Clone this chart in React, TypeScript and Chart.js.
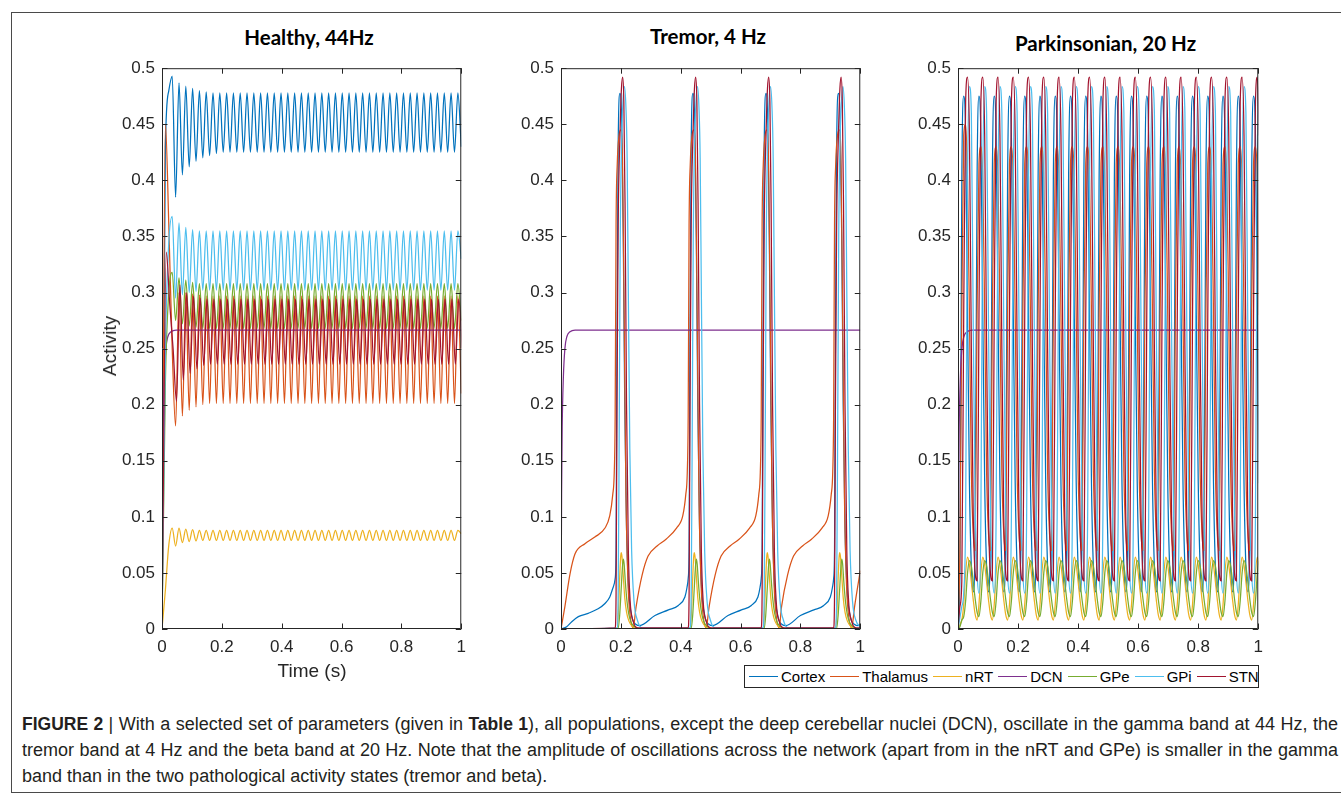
import React, { useEffect, useLayoutEffect, useRef } from 'react';
import { Chart, registerables } from 'chart.js';

Chart.register(...registerables);

// ---------- shared series info ----------
const SERIES_NAMES = ['Cortex', 'Thalamus', 'nRT', 'DCN', 'GPe', 'GPi', 'STN'];
const SERIES_COLORS = ['#0072BD', '#D95319', '#EDB120', '#7E2F8E', '#77AC30', '#4DBEEE', '#A2142F'];

const X_TICKS = [0, 0.2, 0.4, 0.6, 0.8, 1];
const X_TICK_LABELS = ['0', '0.2', '0.4', '0.6', '0.8', '1'];
const Y_TICKS = [0, 0.05, 0.1, 0.15, 0.2, 0.25, 0.3, 0.35, 0.4, 0.45, 0.5];
const Y_TICK_LABELS = ['0', '0.05', '0.1', '0.15', '0.2', '0.25', '0.3', '0.35', '0.4', '0.45', '0.5'];

// DCN settles to a constant level in every state: [time s, activity]
const DCN_TRACE = [
  [0, 0], [0.002, 0.12], [0.004, 0.18], [0.008, 0.225], [0.013, 0.25],
  [0.02, 0.261], [0.03, 0.265], [0.047, 0.2665], [1, 0.2665],
];

// ---------- Healthy, 44 Hz: extrema sampled every half period (1/88 s) ----------
const HEALTHY_STEP = 1 / 88;
const HEALTHY_STN_LAG = 0.003; // STN lags the other populations slightly

const HEALTHY_CORTEX = [
  0, 0.43, 0.48, 0.493, 0.385, 0.487, 0.405, 0.484, 0.412, 0.482, 0.417, 0.48, 0.42, 0.479, 0.422, 0.478, 0.424,
  0.478, 0.425, 0.478, 0.425, 0.478, 0.425, 0.478, 0.425, 0.478, 0.425,
  0.478, 0.425, 0.478, 0.425, 0.478, 0.425, 0.478, 0.425, 0.478, 0.425,
  0.478, 0.425, 0.478, 0.425, 0.478, 0.425, 0.478, 0.425, 0.478, 0.425,
  0.478, 0.425, 0.478, 0.425, 0.478, 0.425, 0.478, 0.425, 0.478, 0.425,
  0.478, 0.425, 0.478, 0.425, 0.478, 0.425, 0.478, 0.425, 0.478, 0.425,
  0.478, 0.425, 0.478, 0.425, 0.478, 0.425, 0.478, 0.425, 0.478, 0.425,
  0.478, 0.425, 0.478, 0.425, 0.478, 0.425, 0.478, 0.425, 0.478, 0.425,
  0.478, 0.43,
];

const HEALTHY_THALAMUS = [
  0, 0.45, 0.36, 0.25, 0.181, 0.3, 0.19, 0.3, 0.195, 0.299, 0.198, 0.298, 0.2,
  0.297, 0.201, 0.297, 0.201, 0.297, 0.201, 0.297, 0.201, 0.297, 0.201,
  0.297, 0.201, 0.297, 0.201, 0.297, 0.201, 0.297, 0.201, 0.297, 0.201,
  0.297, 0.201, 0.297, 0.201, 0.297, 0.201, 0.297, 0.201, 0.297, 0.201,
  0.297, 0.201, 0.297, 0.201, 0.297, 0.201, 0.297, 0.201, 0.297, 0.201,
  0.297, 0.201, 0.297, 0.201, 0.297, 0.201, 0.297, 0.201, 0.297, 0.201,
  0.297, 0.201, 0.297, 0.201, 0.297, 0.201, 0.297, 0.201, 0.297, 0.201,
  0.297, 0.201, 0.297, 0.201, 0.297, 0.201, 0.297, 0.201, 0.297, 0.201,
  0.297, 0.201, 0.297, 0.201,
  0.297, 0.21,
];

const HEALTHY_NRT = [
  0, 0.035, 0.075, 0.09, 0.074, 0.09, 0.077, 0.089, 0.078, 0.0885, 0.0785, 0.088, 0.079,
  0.088, 0.079, 0.088, 0.079, 0.088, 0.079, 0.088, 0.079, 0.088, 0.079,
  0.088, 0.079, 0.088, 0.079, 0.088, 0.079, 0.088, 0.079, 0.088, 0.079,
  0.088, 0.079, 0.088, 0.079, 0.088, 0.079, 0.088, 0.079, 0.088, 0.079,
  0.088, 0.079, 0.088, 0.079, 0.088, 0.079, 0.088, 0.079, 0.088, 0.079,
  0.088, 0.079, 0.088, 0.079, 0.088, 0.079, 0.088, 0.079, 0.088, 0.079,
  0.088, 0.079, 0.088, 0.079, 0.088, 0.079, 0.088, 0.079, 0.088, 0.079,
  0.088, 0.079, 0.088, 0.079, 0.088, 0.079, 0.088, 0.079, 0.088, 0.079,
  0.088, 0.079, 0.088, 0.079,
  0.088, 0.085,
];

const HEALTHY_GPE = [
  0, 0.22, 0.3, 0.318, 0.275, 0.313, 0.272, 0.311, 0.27, 0.309, 0.269, 0.308, 0.268,
  0.308, 0.268, 0.308, 0.268, 0.308, 0.268, 0.308, 0.268, 0.308, 0.268,
  0.308, 0.268, 0.308, 0.268, 0.308, 0.268, 0.308, 0.268, 0.308, 0.268,
  0.308, 0.268, 0.308, 0.268, 0.308, 0.268, 0.308, 0.268, 0.308, 0.268,
  0.308, 0.268, 0.308, 0.268, 0.308, 0.268, 0.308, 0.268, 0.308, 0.268,
  0.308, 0.268, 0.308, 0.268, 0.308, 0.268, 0.308, 0.268, 0.308, 0.268,
  0.308, 0.268, 0.308, 0.268, 0.308, 0.268, 0.308, 0.268, 0.308, 0.268,
  0.308, 0.268, 0.308, 0.268, 0.308, 0.268, 0.308, 0.268, 0.308, 0.268,
  0.308, 0.268, 0.308, 0.268,
  0.308, 0.275,
];

const HEALTHY_GPI = [
  0, 0.25, 0.345, 0.368, 0.295, 0.362, 0.298, 0.358, 0.3, 0.356, 0.301, 0.355, 0.302,
  0.355, 0.302, 0.355, 0.302, 0.355, 0.302, 0.355, 0.302, 0.355, 0.302,
  0.355, 0.302, 0.355, 0.302, 0.355, 0.302, 0.355, 0.302, 0.355, 0.302,
  0.355, 0.302, 0.355, 0.302, 0.355, 0.302, 0.355, 0.302, 0.355, 0.302,
  0.355, 0.302, 0.355, 0.302, 0.355, 0.302, 0.355, 0.302, 0.355, 0.302,
  0.355, 0.302, 0.355, 0.302, 0.355, 0.302, 0.355, 0.302, 0.355, 0.302,
  0.355, 0.302, 0.355, 0.302, 0.355, 0.302, 0.355, 0.302, 0.355, 0.302,
  0.355, 0.302, 0.355, 0.302, 0.355, 0.302, 0.355, 0.302, 0.355, 0.302,
  0.355, 0.302, 0.355, 0.302,
  0.355, 0.33,
];

const HEALTHY_STN = [
  0, 0.336, 0.29, 0.25, 0.203, 0.307, 0.222, 0.3, 0.228, 0.297, 0.232, 0.295, 0.235,
  0.294, 0.236, 0.294, 0.236, 0.294, 0.236, 0.294, 0.236, 0.294, 0.236,
  0.294, 0.236, 0.294, 0.236, 0.294, 0.236, 0.294, 0.236, 0.294, 0.236,
  0.294, 0.236, 0.294, 0.236, 0.294, 0.236, 0.294, 0.236, 0.294, 0.236,
  0.294, 0.236, 0.294, 0.236, 0.294, 0.236, 0.294, 0.236, 0.294, 0.236,
  0.294, 0.236, 0.294, 0.236, 0.294, 0.236, 0.294, 0.236, 0.294, 0.236,
  0.294, 0.236, 0.294, 0.236, 0.294, 0.236, 0.294, 0.236, 0.294, 0.236,
  0.294, 0.236, 0.294, 0.236, 0.294, 0.236, 0.294, 0.236, 0.294, 0.236,
  0.294, 0.236, 0.294, 0.236,
  0.294, 0.25,
];

// ---------- Tremor, 4 Hz: [time s, activity] ----------
const TREMOR_CORTEX = [
  [0, 0], [0.019, 0.002], [0.036, 0.0065], [0.058, 0.011], [0.091, 0.014], [0.124, 0.018], [0.147, 0.0227],
  [0.163, 0.0286], [0.174, 0.037], [0.181, 0.045],
  [0.184, 0.07], [0.187, 0.25], [0.191, 0.43], [0.197, 0.4775], [0.203, 0.45], [0.208, 0.35], [0.213, 0.2],
  [0.219, 0.09], [0.226, 0.035], [0.236, 0.012], [0.251, 0.004], [0.263, 0.003],
  [0.314, 0.012], [0.359, 0.017], [0.392, 0.021], [0.414, 0.0286], [0.421, 0.037], [0.425, 0.045],
  [0.428, 0.07], [0.431, 0.25], [0.435, 0.43], [0.441, 0.4775], [0.447, 0.45], [0.452, 0.35], [0.457, 0.2],
  [0.463, 0.09], [0.47, 0.035], [0.48, 0.012], [0.495, 0.004], [0.507, 0.003],
  [0.558, 0.012], [0.603, 0.017], [0.636, 0.021], [0.658, 0.0286], [0.665, 0.037], [0.669, 0.045],
  [0.672, 0.07], [0.675, 0.25], [0.679, 0.43], [0.685, 0.4775], [0.691, 0.45], [0.696, 0.35], [0.701, 0.2],
  [0.707, 0.09], [0.714, 0.035], [0.724, 0.012], [0.739, 0.004], [0.751, 0.003],
  [0.8, 0.012], [0.845, 0.017], [0.878, 0.021], [0.9, 0.0286], [0.907, 0.037], [0.911, 0.045],
  [0.914, 0.07], [0.917, 0.25], [0.921, 0.43], [0.927, 0.4775], [0.933, 0.45], [0.938, 0.35], [0.943, 0.2],
  [0.949, 0.09], [0.956, 0.035], [0.966, 0.012], [0.981, 0.004], [0.993, 0.003], [1, 0.004],
];

const TREMOR_THALAMUS = [
  [0, 0], [0.013, 0.02], [0.03, 0.049], [0.047, 0.067], [0.08, 0.076], [0.113, 0.082], [0.147, 0.09],
  [0.163, 0.101], [0.173, 0.12], [0.178, 0.14], [0.181, 0.19],
  [0.184, 0.36], [0.188, 0.415], [0.194, 0.44], [0.2, 0.445], [0.206, 0.41], [0.211, 0.28], [0.217, 0.12],
  [0.224, 0.04], [0.231, 0.012], [0.241, 0.001],
  [0.251, 0.02], [0.271, 0.048], [0.291, 0.065], [0.321, 0.074], [0.351, 0.08], [0.386, 0.09],
  [0.407, 0.101], [0.417, 0.12], [0.422, 0.14], [0.425, 0.19],
  [0.428, 0.36], [0.432, 0.415], [0.438, 0.44], [0.444, 0.445], [0.45, 0.41], [0.455, 0.28], [0.461, 0.12],
  [0.468, 0.04], [0.475, 0.012], [0.485, 0.001],
  [0.495, 0.02], [0.515, 0.048], [0.535, 0.065], [0.565, 0.074], [0.595, 0.08], [0.63, 0.09],
  [0.651, 0.101], [0.661, 0.12], [0.666, 0.14], [0.669, 0.19],
  [0.672, 0.36], [0.676, 0.415], [0.682, 0.44], [0.688, 0.445], [0.694, 0.41], [0.699, 0.28], [0.705, 0.12],
  [0.712, 0.04], [0.719, 0.012], [0.729, 0.001],
  [0.737, 0.02], [0.757, 0.048], [0.777, 0.065], [0.807, 0.074], [0.837, 0.08], [0.872, 0.09],
  [0.893, 0.101], [0.903, 0.12], [0.908, 0.14], [0.911, 0.19],
  [0.914, 0.36], [0.918, 0.415], [0.924, 0.44], [0.93, 0.445], [0.936, 0.41], [0.941, 0.28], [0.947, 0.12],
  [0.954, 0.04], [0.961, 0.012], [0.971, 0.001],
  [0.981, 0.02], [1, 0.052],
];

const TREMOR_NRT = [
  [0, 0],
  [0.187, 0.0005], [0.192, 0.015], [0.196, 0.045], [0.199, 0.063], [0.201, 0.068], [0.204, 0.064],
  [0.208, 0.048], [0.213, 0.028], [0.219, 0.015], [0.227, 0.007], [0.239, 0.002], [0.256, 0],
  [0.431, 0.0005], [0.436, 0.015], [0.44, 0.045], [0.443, 0.063], [0.445, 0.068], [0.448, 0.064],
  [0.452, 0.048], [0.457, 0.028], [0.463, 0.015], [0.471, 0.007], [0.483, 0.002], [0.5, 0],
  [0.675, 0.0005], [0.68, 0.015], [0.684, 0.045], [0.687, 0.063], [0.689, 0.068], [0.692, 0.064],
  [0.696, 0.048], [0.701, 0.028], [0.707, 0.015], [0.715, 0.007], [0.727, 0.002], [0.744, 0],
  [0.917, 0.0005], [0.922, 0.015], [0.926, 0.045], [0.929, 0.063], [0.931, 0.068], [0.934, 0.064],
  [0.938, 0.048], [0.943, 0.028], [0.949, 0.015], [0.957, 0.007], [0.969, 0.002], [0.986, 0], [1, 0],
];

const TREMOR_GPE = [
  [0, 0],
  [0.191, 0.0005], [0.196, 0.012], [0.201, 0.035], [0.205, 0.054], [0.208, 0.0624], [0.211, 0.058],
  [0.215, 0.042], [0.22, 0.026], [0.226, 0.014], [0.234, 0.006], [0.246, 0.002], [0.266, 0],
  [0.435, 0.0005], [0.44, 0.012], [0.445, 0.035], [0.449, 0.054], [0.452, 0.0624], [0.455, 0.058],
  [0.459, 0.042], [0.464, 0.026], [0.47, 0.014], [0.478, 0.006], [0.49, 0.002], [0.51, 0],
  [0.679, 0.0005], [0.684, 0.012], [0.689, 0.035], [0.693, 0.054], [0.696, 0.0624], [0.699, 0.058],
  [0.703, 0.042], [0.708, 0.026], [0.714, 0.014], [0.722, 0.006], [0.734, 0.002], [0.754, 0],
  [0.921, 0.0005], [0.926, 0.012], [0.931, 0.035], [0.935, 0.054], [0.938, 0.0624], [0.941, 0.058],
  [0.945, 0.042], [0.95, 0.026], [0.956, 0.014], [0.964, 0.006], [0.976, 0.002], [0.996, 0], [1, 0],
];

const TREMOR_GPI = [
  [0, 0],
  [0.187, 0.001], [0.191, 0.03], [0.194, 0.15], [0.198, 0.35], [0.202, 0.43], [0.207, 0.47], [0.212, 0.4836],
  [0.217, 0.465], [0.221, 0.42], [0.225, 0.3], [0.23, 0.16], [0.236, 0.07], [0.244, 0.025], [0.255, 0.008], [0.271, 0.001],
  [0.431, 0.001], [0.435, 0.03], [0.438, 0.15], [0.442, 0.35], [0.446, 0.43], [0.451, 0.47], [0.456, 0.4836],
  [0.461, 0.465], [0.465, 0.42], [0.469, 0.3], [0.474, 0.16], [0.48, 0.07], [0.488, 0.025], [0.499, 0.008], [0.515, 0.001],
  [0.675, 0.001], [0.679, 0.03], [0.682, 0.15], [0.686, 0.35], [0.69, 0.43], [0.695, 0.47], [0.7, 0.4836],
  [0.705, 0.465], [0.709, 0.42], [0.713, 0.3], [0.718, 0.16], [0.724, 0.07], [0.732, 0.025], [0.743, 0.008], [0.759, 0.001],
  [0.917, 0.001], [0.921, 0.03], [0.924, 0.15], [0.928, 0.35], [0.932, 0.43], [0.937, 0.47], [0.942, 0.4836],
  [0.947, 0.465], [0.951, 0.42], [0.955, 0.3], [0.96, 0.16], [0.966, 0.07], [0.974, 0.025], [0.985, 0.008], [1, 0.002],
];

const TREMOR_STN = [
  [0, 0],
  [0.181, 0.001], [0.184, 0.03], [0.187, 0.2], [0.191, 0.36], [0.197, 0.44], [0.202, 0.482], [0.206, 0.492],
  [0.21, 0.47], [0.214, 0.38], [0.219, 0.2], [0.225, 0.07], [0.231, 0.025], [0.241, 0.007], [0.256, 0.001],
  [0.425, 0.001], [0.428, 0.03], [0.431, 0.2], [0.435, 0.36], [0.441, 0.44], [0.446, 0.482], [0.45, 0.492],
  [0.454, 0.47], [0.458, 0.38], [0.463, 0.2], [0.469, 0.07], [0.475, 0.025], [0.485, 0.007], [0.5, 0.001],
  [0.669, 0.001], [0.672, 0.03], [0.675, 0.2], [0.679, 0.36], [0.685, 0.44], [0.69, 0.482], [0.694, 0.492],
  [0.698, 0.47], [0.702, 0.38], [0.707, 0.2], [0.713, 0.07], [0.719, 0.025], [0.729, 0.007], [0.744, 0.001],
  [0.911, 0.001], [0.914, 0.03], [0.917, 0.2], [0.921, 0.36], [0.927, 0.44], [0.932, 0.482], [0.936, 0.492],
  [0.94, 0.47], [0.944, 0.38], [0.949, 0.2], [0.955, 0.07], [0.961, 0.025], [0.971, 0.007], [0.986, 0.001], [1, 0.001],
];

// ---------- Parkinsonian, 20 Hz: sampled every 1/8 of a 50.8 ms cycle ----------
const PARK_STEP = 0.00635;

const PARK_CORTEX = [
  0, 0.05, 0.4, 0.475, 0.44, 0.28, 0.13, 0.055,
  0.033, 0.09, 0.4, 0.475, 0.44, 0.28, 0.13, 0.055, 0.033, 0.09, 0.4, 0.475, 0.44, 0.28, 0.13, 0.055,
  0.033, 0.09, 0.4, 0.475, 0.44, 0.28, 0.13, 0.055, 0.033, 0.09, 0.4, 0.475, 0.44, 0.28, 0.13, 0.055,
  0.033, 0.09, 0.4, 0.475, 0.44, 0.28, 0.13, 0.055, 0.033, 0.09, 0.4, 0.475, 0.44, 0.28, 0.13, 0.055,
  0.033, 0.09, 0.4, 0.475, 0.44, 0.28, 0.13, 0.055, 0.033, 0.09, 0.4, 0.475, 0.44, 0.28, 0.13, 0.055,
  0.033, 0.09, 0.4, 0.475, 0.44, 0.28, 0.13, 0.055, 0.033, 0.09, 0.4, 0.475, 0.44, 0.28, 0.13, 0.055,
  0.033, 0.09, 0.4, 0.475, 0.44, 0.28, 0.13, 0.055, 0.033, 0.09, 0.4, 0.475, 0.44, 0.28, 0.13, 0.055,
  0.033, 0.09, 0.4, 0.475, 0.44, 0.28, 0.13, 0.055, 0.033, 0.09, 0.4, 0.475, 0.44, 0.28, 0.13, 0.055,
  0.033, 0.09, 0.4, 0.475, 0.44, 0.28, 0.13, 0.055, 0.033, 0.09, 0.4, 0.475, 0.44, 0.28, 0.13, 0.055,
  0.033, 0.09, 0.4, 0.475, 0.44, 0.28, 0.13, 0.055, 0.033, 0.09, 0.4, 0.475, 0.44, 0.28, 0.13, 0.055,
  0.033, 0.09, 0.4, 0.475, 0.44, 0.28, 0.13,
];

const PARK_THALAMUS = [
  0, 0.07, 0.28, 0.44, 0.45, 0.4, 0.28, 0.14,
  0.085, 0.07, 0.28, 0.415, 0.43, 0.4, 0.28, 0.14, 0.085, 0.07, 0.28, 0.415, 0.43, 0.4, 0.28, 0.14,
  0.085, 0.07, 0.28, 0.415, 0.43, 0.4, 0.28, 0.14, 0.085, 0.07, 0.28, 0.415, 0.43, 0.4, 0.28, 0.14,
  0.085, 0.07, 0.28, 0.415, 0.43, 0.4, 0.28, 0.14, 0.085, 0.07, 0.28, 0.415, 0.43, 0.4, 0.28, 0.14,
  0.085, 0.07, 0.28, 0.415, 0.43, 0.4, 0.28, 0.14, 0.085, 0.07, 0.28, 0.415, 0.43, 0.4, 0.28, 0.14,
  0.085, 0.07, 0.28, 0.415, 0.43, 0.4, 0.28, 0.14, 0.085, 0.07, 0.28, 0.415, 0.43, 0.4, 0.28, 0.14,
  0.085, 0.07, 0.28, 0.415, 0.43, 0.4, 0.28, 0.14, 0.085, 0.07, 0.28, 0.415, 0.43, 0.4, 0.28, 0.14,
  0.085, 0.07, 0.28, 0.415, 0.43, 0.4, 0.28, 0.14, 0.085, 0.07, 0.28, 0.415, 0.43, 0.4, 0.28, 0.14,
  0.085, 0.07, 0.28, 0.415, 0.43, 0.4, 0.28, 0.14, 0.085, 0.07, 0.28, 0.415, 0.43, 0.4, 0.28, 0.14,
  0.085, 0.07, 0.28, 0.415, 0.43, 0.4, 0.28, 0.14, 0.085, 0.07, 0.28, 0.415, 0.43, 0.4, 0.28, 0.14,
  0.085, 0.07, 0.28, 0.415, 0.43, 0.4, 0.28,
];

const PARK_NRT = [
  0, 0.004, 0.008, 0.022, 0.05, 0.064, 0.057, 0.042,
  0.026, 0.013, 0.008, 0.022, 0.05, 0.064, 0.057, 0.042, 0.026, 0.013, 0.008, 0.022, 0.05, 0.064, 0.057, 0.042,
  0.026, 0.013, 0.008, 0.022, 0.05, 0.064, 0.057, 0.042, 0.026, 0.013, 0.008, 0.022, 0.05, 0.064, 0.057, 0.042,
  0.026, 0.013, 0.008, 0.022, 0.05, 0.064, 0.057, 0.042, 0.026, 0.013, 0.008, 0.022, 0.05, 0.064, 0.057, 0.042,
  0.026, 0.013, 0.008, 0.022, 0.05, 0.064, 0.057, 0.042, 0.026, 0.013, 0.008, 0.022, 0.05, 0.064, 0.057, 0.042,
  0.026, 0.013, 0.008, 0.022, 0.05, 0.064, 0.057, 0.042, 0.026, 0.013, 0.008, 0.022, 0.05, 0.064, 0.057, 0.042,
  0.026, 0.013, 0.008, 0.022, 0.05, 0.064, 0.057, 0.042, 0.026, 0.013, 0.008, 0.022, 0.05, 0.064, 0.057, 0.042,
  0.026, 0.013, 0.008, 0.022, 0.05, 0.064, 0.057, 0.042, 0.026, 0.013, 0.008, 0.022, 0.05, 0.064, 0.057, 0.042,
  0.026, 0.013, 0.008, 0.022, 0.05, 0.064, 0.057, 0.042, 0.026, 0.013, 0.008, 0.022, 0.05, 0.064, 0.057, 0.042,
  0.026, 0.013, 0.008, 0.022, 0.05, 0.064, 0.057, 0.042, 0.026, 0.013, 0.008, 0.022, 0.05, 0.064, 0.057, 0.042,
  0.026, 0.013, 0.008, 0.022, 0.05, 0.064, 0.057,
];

const PARK_GPE = [
  0, 0.002, 0.008, 0.011, 0.025, 0.05, 0.061, 0.056,
  0.042, 0.027, 0.015, 0.011, 0.025, 0.05, 0.061, 0.056, 0.042, 0.027, 0.015, 0.011, 0.025, 0.05, 0.061, 0.056,
  0.042, 0.027, 0.015, 0.011, 0.025, 0.05, 0.061, 0.056, 0.042, 0.027, 0.015, 0.011, 0.025, 0.05, 0.061, 0.056,
  0.042, 0.027, 0.015, 0.011, 0.025, 0.05, 0.061, 0.056, 0.042, 0.027, 0.015, 0.011, 0.025, 0.05, 0.061, 0.056,
  0.042, 0.027, 0.015, 0.011, 0.025, 0.05, 0.061, 0.056, 0.042, 0.027, 0.015, 0.011, 0.025, 0.05, 0.061, 0.056,
  0.042, 0.027, 0.015, 0.011, 0.025, 0.05, 0.061, 0.056, 0.042, 0.027, 0.015, 0.011, 0.025, 0.05, 0.061, 0.056,
  0.042, 0.027, 0.015, 0.011, 0.025, 0.05, 0.061, 0.056, 0.042, 0.027, 0.015, 0.011, 0.025, 0.05, 0.061, 0.056,
  0.042, 0.027, 0.015, 0.011, 0.025, 0.05, 0.061, 0.056, 0.042, 0.027, 0.015, 0.011, 0.025, 0.05, 0.061, 0.056,
  0.042, 0.027, 0.015, 0.011, 0.025, 0.05, 0.061, 0.056, 0.042, 0.027, 0.015, 0.011, 0.025, 0.05, 0.061, 0.056,
  0.042, 0.027, 0.015, 0.011, 0.025, 0.05, 0.061, 0.056, 0.042, 0.027, 0.015, 0.011, 0.025, 0.05, 0.061, 0.056,
  0.042, 0.027, 0.015, 0.011, 0.025, 0.05, 0.061,
];

const PARK_GPI = [
  0, 0.01, 0.02, 0.032, 0.1, 0.4, 0.4836, 0.46,
  0.27, 0.11, 0.05, 0.032, 0.1, 0.4, 0.4836, 0.46, 0.27, 0.11, 0.05, 0.032, 0.1, 0.4, 0.4836, 0.46,
  0.27, 0.11, 0.05, 0.032, 0.1, 0.4, 0.4836, 0.46, 0.27, 0.11, 0.05, 0.032, 0.1, 0.4, 0.4836, 0.46,
  0.27, 0.11, 0.05, 0.032, 0.1, 0.4, 0.4836, 0.46, 0.27, 0.11, 0.05, 0.032, 0.1, 0.4, 0.4836, 0.46,
  0.27, 0.11, 0.05, 0.032, 0.1, 0.4, 0.4836, 0.46, 0.27, 0.11, 0.05, 0.032, 0.1, 0.4, 0.4836, 0.46,
  0.27, 0.11, 0.05, 0.032, 0.1, 0.4, 0.4836, 0.46, 0.27, 0.11, 0.05, 0.032, 0.1, 0.4, 0.4836, 0.46,
  0.27, 0.11, 0.05, 0.032, 0.1, 0.4, 0.4836, 0.46, 0.27, 0.11, 0.05, 0.032, 0.1, 0.4, 0.4836, 0.46,
  0.27, 0.11, 0.05, 0.032, 0.1, 0.4, 0.4836, 0.46, 0.27, 0.11, 0.05, 0.032, 0.1, 0.4, 0.4836, 0.46,
  0.27, 0.11, 0.05, 0.032, 0.1, 0.4, 0.4836, 0.46, 0.27, 0.11, 0.05, 0.032, 0.1, 0.4, 0.4836, 0.46,
  0.27, 0.11, 0.05, 0.032, 0.1, 0.4, 0.4836, 0.46, 0.27, 0.11, 0.05, 0.032, 0.1, 0.4, 0.4836, 0.46,
  0.27, 0.11, 0.05, 0.032, 0.1, 0.4, 0.4836,
];

const PARK_STN = [
  0, 0.02, 0.043, 0.28, 0.47, 0.492, 0.44, 0.25,
  0.1, 0.05, 0.043, 0.28, 0.47, 0.492, 0.44, 0.25, 0.1, 0.05, 0.043, 0.28, 0.47, 0.492, 0.44, 0.25,
  0.1, 0.05, 0.043, 0.28, 0.47, 0.492, 0.44, 0.25, 0.1, 0.05, 0.043, 0.28, 0.47, 0.492, 0.44, 0.25,
  0.1, 0.05, 0.043, 0.28, 0.47, 0.492, 0.44, 0.25, 0.1, 0.05, 0.043, 0.28, 0.47, 0.492, 0.44, 0.25,
  0.1, 0.05, 0.043, 0.28, 0.47, 0.492, 0.44, 0.25, 0.1, 0.05, 0.043, 0.28, 0.47, 0.492, 0.44, 0.25,
  0.1, 0.05, 0.043, 0.28, 0.47, 0.492, 0.44, 0.25, 0.1, 0.05, 0.043, 0.28, 0.47, 0.492, 0.44, 0.25,
  0.1, 0.05, 0.043, 0.28, 0.47, 0.492, 0.44, 0.25, 0.1, 0.05, 0.043, 0.28, 0.47, 0.492, 0.44, 0.25,
  0.1, 0.05, 0.043, 0.28, 0.47, 0.492, 0.44, 0.25, 0.1, 0.05, 0.043, 0.28, 0.47, 0.492, 0.44, 0.25,
  0.1, 0.05, 0.043, 0.28, 0.47, 0.492, 0.44, 0.25, 0.1, 0.05, 0.043, 0.28, 0.47, 0.492, 0.44, 0.25,
  0.1, 0.05, 0.043, 0.28, 0.47, 0.492, 0.44, 0.25, 0.1, 0.05, 0.043, 0.28, 0.47, 0.492, 0.44, 0.25,
  0.1, 0.05, 0.043, 0.28, 0.47, 0.492, 0.44,
];

// ---------- helpers to turn the arrays into chart points ----------
type Pt = { x: number; y: number };
const onGrid = (values: number[], step: number, lag = 0): Pt[] =>
  values.map((y, k) => ({ x: k === 0 ? 0 : k * step + lag, y }));
const fromPairs = (pairs: number[][]): Pt[] => pairs.map(([x, y]) => ({ x, y }));

// ---------- layout ----------
const PLOT_TOP = 63;
const PLOT_HEIGHT = 566;
const Y_AXIS_W = 56;
const PAD_TOP = 12;
const PAD_RIGHT = 12;
const X_AXIS_H = 36;

const TICK_COLOR = '#262626';
const AXIS_FONT = "'Liberation Sans', Arial, Helvetica, sans-serif";

type PanelDef = {
  title: string;
  plotLeft: number;
  plotWidth: number;
  titleY: number;
  series: Pt[][];
};

const PANELS: PanelDef[] = [
  {
    title: 'Healthy, 44Hz',
    plotLeft: 162,
    plotWidth: 300,
    titleY: 37,
    series: [
      onGrid(HEALTHY_CORTEX, HEALTHY_STEP),
      onGrid(HEALTHY_THALAMUS, HEALTHY_STEP),
      onGrid(HEALTHY_NRT, HEALTHY_STEP),
      fromPairs(DCN_TRACE),
      onGrid(HEALTHY_GPE, HEALTHY_STEP),
      onGrid(HEALTHY_GPI, HEALTHY_STEP),
      onGrid(HEALTHY_STN, HEALTHY_STEP, HEALTHY_STN_LAG),
    ],
  },
  {
    title: 'Tremor, 4 Hz',
    plotLeft: 561,
    plotWidth: 300,
    titleY: 36,
    series: [
      fromPairs(TREMOR_CORTEX),
      fromPairs(TREMOR_THALAMUS),
      fromPairs(TREMOR_NRT),
      fromPairs(DCN_TRACE),
      fromPairs(TREMOR_GPE),
      fromPairs(TREMOR_GPI),
      fromPairs(TREMOR_STN),
    ],
  },
  {
    title: 'Parkinsonian, 20 Hz',
    plotLeft: 958,
    plotWidth: 301,
    titleY: 43,
    series: [
      onGrid(PARK_CORTEX, PARK_STEP),
      onGrid(PARK_THALAMUS, PARK_STEP),
      onGrid(PARK_NRT, PARK_STEP),
      fromPairs(DCN_TRACE),
      onGrid(PARK_GPE, PARK_STEP),
      onGrid(PARK_GPI, PARK_STEP),
      onGrid(PARK_STN, PARK_STEP),
    ],
  },
];

// Box around the axes with inward-pointing tick marks on all four sides
const boxPlugin = {
  id: 'axesBox',
  afterDatasetsDraw(chart: any) {
    const { ctx, chartArea: a, scales } = chart;
    const len = 5.5;
    ctx.save();
    ctx.strokeStyle = TICK_COLOR;
    ctx.lineWidth = 1;
    ctx.beginPath();
    ctx.rect(a.left + 0.5, a.top + 0.5, a.right - a.left - 1, a.bottom - a.top - 1);
    X_TICKS.forEach((v) => {
      const px = Math.round(scales.x.getPixelForValue(v)) + 0.5;
      ctx.moveTo(px, a.bottom);
      ctx.lineTo(px, a.bottom - len);
      ctx.moveTo(px, a.top);
      ctx.lineTo(px, a.top + len);
    });
    Y_TICKS.forEach((v) => {
      const py = Math.round(scales.y.getPixelForValue(v)) + 0.5;
      ctx.moveTo(a.left, py);
      ctx.lineTo(a.left + len, py);
      ctx.moveTo(a.right, py);
      ctx.lineTo(a.right - len, py);
    });
    ctx.stroke();
    ctx.restore();
  },
};

function ChartPanel({ panel }: { panel: PanelDef }) {
  const ref = useRef<HTMLCanvasElement | null>(null);
  const width = Y_AXIS_W + panel.plotWidth + PAD_RIGHT;
  const height = PAD_TOP + PLOT_HEIGHT + X_AXIS_H;

  useEffect(() => {
    const canvas = ref.current;
    if (!canvas) return;
    const chart = new Chart(canvas, {
      type: 'line',
      data: {
        datasets: panel.series.map((pts, i) => ({
          label: SERIES_NAMES[i],
          data: pts,
          borderColor: SERIES_COLORS[i],
          backgroundColor: SERIES_COLORS[i],
          borderWidth: 1.25,
          pointRadius: 0,
          fill: false,
          cubicInterpolationMode: 'monotone',
          order: SERIES_NAMES.length - i,
        })),
      },
      options: {
        animation: false,
        responsive: false,
        maintainAspectRatio: false,
        devicePixelRatio: 1,
        layout: { padding: { top: PAD_TOP, right: PAD_RIGHT, bottom: 0, left: 0 } },
        plugins: {
          legend: { display: false },
          tooltip: { enabled: false },
          title: { display: false },
        },
        scales: {
          x: {
            type: 'linear',
            min: 0,
            max: 1,
            grid: { display: false, drawTicks: false },
            border: { display: false },
            afterBuildTicks: (s: any) => {
              s.ticks = X_TICKS.map((value) => ({ value }));
            },
            afterFit: (s: any) => {
              s.height = X_AXIS_H;
            },
            ticks: {
              autoSkip: false,
              maxRotation: 0,
              padding: 8,
              color: TICK_COLOR,
              font: { family: AXIS_FONT, size: 17 },
              callback: (_v: any, i: number) => X_TICK_LABELS[i],
            },
          },
          y: {
            type: 'linear',
            min: 0,
            max: 0.5,
            grid: { display: false, drawTicks: false },
            border: { display: false },
            afterBuildTicks: (s: any) => {
              s.ticks = Y_TICKS.map((value) => ({ value }));
            },
            afterFit: (s: any) => {
              s.width = Y_AXIS_W;
            },
            ticks: {
              autoSkip: false,
              padding: 7,
              color: TICK_COLOR,
              font: { family: AXIS_FONT, size: 17 },
              callback: (_v: any, i: number) => Y_TICK_LABELS[i],
            },
          },
        },
      } as any,
      plugins: [boxPlugin],
    });
    return () => chart.destroy();
  }, [panel]);

  return (
    <canvas
      ref={ref}
      width={width}
      height={height}
      style={{
        position: 'absolute',
        left: panel.plotLeft - Y_AXIS_W,
        top: PLOT_TOP - PAD_TOP,
        width,
        height,
      }}
    />
  );
}

// A caption line spread to a fixed width by adjusting the word spacing
function JustifiedLine({ width, children }: { width: number; children: React.ReactNode }) {
  const ref = useRef<HTMLSpanElement | null>(null);
  useLayoutEffect(() => {
    const el = ref.current;
    if (!el) return;
    el.style.wordSpacing = '0px';
    const natural = el.getBoundingClientRect().width;
    const spaces = (el.textContent || '').split(' ').length - 1;
    if (spaces > 0) el.style.wordSpacing = `${(width - natural) / spaces}px`;
  }, [width]);
  return (
    <div style={{ whiteSpace: 'nowrap', height: 26 }}>
      <span ref={ref} style={{ display: 'inline-block', whiteSpace: 'nowrap' }}>
        {children}
      </span>
    </div>
  );
}

const centered = (x: number, y: number): React.CSSProperties => ({
  position: 'absolute',
  left: x,
  top: y,
  transform: 'translate(-50%, -50%)',
  whiteSpace: 'nowrap',
});

const boldCaption: React.CSSProperties = { fontWeight: 700, fontSize: 17.5 };

export default function App() {
  return (
    <div
      style={{
        position: 'absolute',
        left: 0,
        top: 0,
        width: 1341,
        height: 806,
        background: '#ffffff',
        overflow: 'hidden',
        fontFamily: AXIS_FONT,
      }}
    >
      {/* figure frame */}
      <div
        style={{
          position: 'absolute',
          left: 11,
          top: 12,
          width: 1400,
          height: 781,
          border: '1px solid #4a4a4a',
          boxSizing: 'border-box',
        }}
      />

      {PANELS.map((p) => (
        <React.Fragment key={p.title}>
          <div
            style={{
              ...centered(p.plotLeft + p.plotWidth / 2 - 3, p.titleY),
              fontFamily: "Lato, 'Open Sans', sans-serif",
              fontWeight: 700,
              fontSize: 20.5,
              color: '#000',
            }}
          >
            {p.title}
          </div>
          <ChartPanel panel={p} />
        </React.Fragment>
      ))}

      {/* axis titles of the first panel */}
      <div style={{ ...centered(312, 671), fontSize: 19, color: TICK_COLOR }}>Time (s)</div>
      <div
        style={{
          ...centered(110, 346),
          transform: 'translate(-50%, -50%) rotate(-90deg)',
          fontSize: 19,
          color: TICK_COLOR,
        }}
      >
        Activity
      </div>

      {/* legend */}
      <div
        style={{
          position: 'absolute',
          left: 744,
          top: 665,
          width: 515,
          height: 23,
          border: '1px solid #262626',
          boxSizing: 'border-box',
          display: 'flex',
          alignItems: 'center',
          paddingLeft: 4,
          fontSize: 15,
          color: '#000',
          background: '#fff',
        }}
      >
        {SERIES_NAMES.map((name, i) => (
          <div key={name} style={{ display: 'flex', alignItems: 'center', marginRight: 5 }}>
            <span
              style={{
                display: 'inline-block',
                width: 29,
                height: 1.5,
                background: SERIES_COLORS[i],
                marginRight: 3,
              }}
            />
            <span>{name}</span>
          </div>
        ))}
      </div>

      {/* caption */}
      <div
        style={{
          position: 'absolute',
          left: 22,
          top: 711,
          width: 1316,
          fontSize: 18,
          lineHeight: '26px',
          color: '#231f20',
        }}
      >
        <JustifiedLine width={1316}>
          <span style={boldCaption}>FIGURE 2</span> | With a selected set of parameters (given in{' '}
          <span style={boldCaption}>Table 1</span>), all populations, except the deep cerebellar nuclei (DCN),
          oscillate in the gamma band at 44 Hz, the
        </JustifiedLine>
        <JustifiedLine width={1316}>
          tremor band at 4 Hz and the beta band at 20 Hz. Note that the amplitude of oscillations across the network
          (apart from in the nRT and GPe) is smaller in the gamma
        </JustifiedLine>
        <div style={{ whiteSpace: 'nowrap', height: 26 }}>
          band than in the two pathological activity states (tremor and beta).
        </div>
      </div>
    </div>
  );
}
